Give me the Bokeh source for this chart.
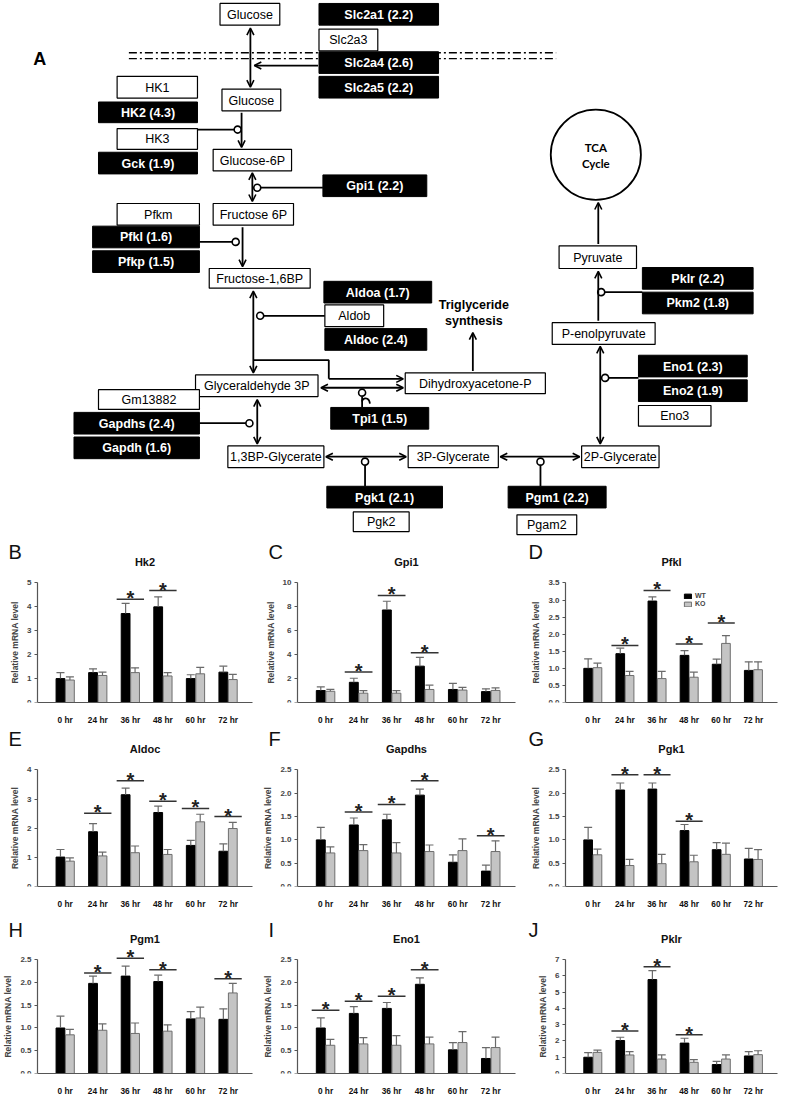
import numpy as np
from bokeh.plotting import figure
from bokeh.models import Range1d, Arrow, OpenHead, FixedTicker, PrintfTickFormatter
from bokeh.layouts import column, row
from bokeh.embed import file_html
from bokeh.resources import INLINE
from bokeh.core.properties import value

FONT = "Liberation Sans"

# ------------------------------------------------------------------ data
times = ["0 hr", "24 hr", "36 hr", "48 hr", "60 hr", "72 hr"]
groups = ["WT", "KO"]

hk2_wt = [1.00, 1.25, 3.72, 4.00, 1.00, 1.27]
hk2_wt_sem = [0.25, 0.16, 0.43, 0.42, 0.16, 0.25]
hk2_ko = [0.94, 1.13, 1.25, 1.11, 1.20, 0.96]
hk2_ko_sem = [0.13, 0.14, 0.20, 0.14, 0.27, 0.22]
hk2_sig = [2, 3]
hk2_sig_y = [4.32, 4.68]

gpi1_wt = [1.00, 1.69, 7.74, 3.04, 1.09, 0.91]
gpi1_wt_sem = [0.30, 0.34, 0.73, 0.73, 0.51, 0.23]
gpi1_ko = [0.94, 0.78, 0.78, 1.09, 1.04, 1.01]
gpi1_ko_sem = [0.15, 0.21, 0.21, 0.36, 0.23, 0.21]
gpi1_sig = [1, 2, 3]
gpi1_sig_y = [2.55, 8.96, 4.16]

pfkl_wt = [1.00, 1.43, 2.97, 1.38, 1.12, 0.94]
pfkl_wt_sem = [0.28, 0.16, 0.12, 0.14, 0.15, 0.25]
pfkl_ko = [1.02, 0.79, 0.70, 0.74, 1.73, 0.96]
pfkl_ko_sem = [0.13, 0.12, 0.21, 0.15, 0.23, 0.23]
pfkl_sig = [1, 2, 3, 4]
pfkl_sig_y = [1.67, 3.28, 1.71, 2.33]

aldoc_wt = [1.01, 1.88, 3.15, 2.54, 1.41, 1.21]
aldoc_wt_sem = [0.26, 0.28, 0.23, 0.22, 0.17, 0.25]
aldoc_ko = [0.87, 1.05, 1.16, 1.10, 2.22, 1.99]
aldoc_ko_sem = [0.11, 0.13, 0.23, 0.17, 0.26, 0.21]
aldoc_sig = [1, 2, 3, 4, 5]
aldoc_sig_y = [2.51, 3.63, 2.93, 2.68, 2.40]

gapdhs_wt = [1.00, 1.32, 1.43, 1.96, 0.52, 0.33]
gapdhs_wt_sem = [0.27, 0.15, 0.12, 0.13, 0.16, 0.13]
gapdhs_ko = [0.72, 0.77, 0.72, 0.75, 0.77, 0.75]
gapdhs_ko_sem = [0.13, 0.13, 0.22, 0.14, 0.25, 0.23]
gapdhs_sig = [1, 2, 3, 5]
gapdhs_sig_y = [1.60, 1.76, 2.27, 1.09]

pgk1_wt = [1.00, 2.07, 2.09, 1.20, 0.79, 0.59]
pgk1_wt_sem = [0.27, 0.15, 0.13, 0.13, 0.15, 0.23]
pgk1_ko = [0.68, 0.45, 0.49, 0.53, 0.69, 0.58]
pgk1_ko_sem = [0.12, 0.13, 0.20, 0.14, 0.24, 0.21]
pgk1_sig = [1, 2, 3]
pgk1_sig_y = [2.40, 2.40, 1.40]

pgm1_wt = [1.00, 1.98, 2.14, 2.02, 1.20, 1.19]
pgm1_wt_sem = [0.26, 0.16, 0.22, 0.14, 0.16, 0.23]
pgm1_ko = [0.85, 0.95, 0.88, 0.93, 1.22, 1.77]
pgm1_ko_sem = [0.12, 0.14, 0.23, 0.14, 0.24, 0.21]
pgm1_sig = [1, 2, 3, 5]
pgm1_sig_y = [2.21, 2.53, 2.28, 2.08]

eno1_wt = [1.00, 1.32, 1.43, 1.96, 0.52, 0.33]
eno1_wt_sem = [0.22, 0.15, 0.13, 0.14, 0.16, 0.24]
eno1_ko = [0.62, 0.65, 0.62, 0.65, 0.68, 0.57]
eno1_ko_sem = [0.13, 0.14, 0.21, 0.15, 0.24, 0.23]
eno1_sig = [0, 1, 2, 3]
eno1_sig_y = [1.39, 1.59, 1.70, 2.28]

pklr_wt = [1.00, 2.03, 5.78, 1.87, 0.55, 1.08]
pklr_wt_sem = [0.28, 0.20, 0.55, 0.30, 0.20, 0.26]
pklr_ko = [1.30, 1.14, 0.89, 0.69, 0.89, 1.16]
pklr_ko_sem = [0.14, 0.20, 0.25, 0.16, 0.25, 0.24]
pklr_sig = [1, 2, 3]
pklr_sig_y = [2.62, 6.57, 2.39]

panels = [
    ("B", "Hk2", hk2_wt, hk2_wt_sem, hk2_ko, hk2_ko_sem, hk2_sig, hk2_sig_y, 5, 1),
    ("C", "Gpi1", gpi1_wt, gpi1_wt_sem, gpi1_ko, gpi1_ko_sem, gpi1_sig, gpi1_sig_y, 10, 2),
    ("D", "Pfkl", pfkl_wt, pfkl_wt_sem, pfkl_ko, pfkl_ko_sem, pfkl_sig, pfkl_sig_y, 3.5, 0.5),
    ("E", "Aldoc", aldoc_wt, aldoc_wt_sem, aldoc_ko, aldoc_ko_sem, aldoc_sig, aldoc_sig_y, 4, 1),
    ("F", "Gapdhs", gapdhs_wt, gapdhs_wt_sem, gapdhs_ko, gapdhs_ko_sem, gapdhs_sig, gapdhs_sig_y, 2.5, 0.5),
    ("G", "Pgk1", pgk1_wt, pgk1_wt_sem, pgk1_ko, pgk1_ko_sem, pgk1_sig, pgk1_sig_y, 2.5, 0.5),
    ("H", "Pgm1", pgm1_wt, pgm1_wt_sem, pgm1_ko, pgm1_ko_sem, pgm1_sig, pgm1_sig_y, 2.5, 0.5),
    ("I", "Eno1", eno1_wt, eno1_wt_sem, eno1_ko, eno1_ko_sem, eno1_sig, eno1_sig_y, 2.5, 0.5),
    ("J", "Pklr", pklr_wt, pklr_wt_sem, pklr_ko, pklr_ko_sem, pklr_sig, pklr_sig_y, 7, 1),
]

# ------------------------------------------------------------------ pathway diagram (layout, reference pixels)
white_boxes = [
    ("Glucose", 224, 285, 3, 25),
    ("Slc2a3", 325, 385, 29, 51),
    ("HK1", 119, 201, 77, 99),
    ("Glucose", 226, 286, 90, 112),
    ("HK3", 119, 201, 130, 151),
    ("Glucose-6P", 217, 297, 151, 173),
    ("Pfkm", 119, 203, 206, 228),
    ("Fructose 6P", 217, 299, 206, 228),
    ("Fructose-1,6BP", 213, 316, 272, 292),
    ("Aldob", 331, 391, 309, 331),
    ("Glyceraldehyde 3P", 199, 324, 380, 402),
    ("Dihydroxyacetone-P", 413, 556, 378, 399),
    ("Gm13882", 100, 203, 395, 415),
    ("1,3BP-Glycerate", 232, 330, 452, 474),
    ("3P-Glycerate", 416, 508, 452, 474),
    ("2P-Glycerate", 593, 672, 452, 474),
    ("Pgk2", 360, 417, 519, 539),
    ("Pgam2", 527, 588, 522, 542),
    ("Pyruvate", 570, 649, 249, 272),
    ("P-enolpyruvate", 563, 668, 327, 349),
    ("Eno3", 651, 725, 411, 432),
]
black_boxes = [
    ("Slc2a1 (2.2)", 325, 447, 3, 25),
    ("Slc2a4 (2.6)", 325, 447, 52, 74),
    ("Slc2a5 (2.2)", 325, 447, 77, 99),
    ("HK2 (4.3)", 100, 201, 103, 124),
    ("Gck (1.9)", 100, 201, 154, 176),
    ("Gpi1 (2.2)", 329, 435, 177, 199),
    ("Pfkl (1.6)", 94, 203, 229, 251),
    ("Pfkp (1.5)", 94, 203, 254, 276),
    ("Aldoa (1.7)", 330, 440, 285, 307),
    ("Aldoc (2.4)", 331, 435, 333, 355),
    ("Tpi1 (1.5)", 337, 437, 413, 435),
    ("Gapdhs (2.4)", 75, 203, 418, 440),
    ("Gapdh (1.6)", 75, 203, 443, 465),
    ("Pgk1 (2.1)", 333, 451, 493, 515),
    ("Pgm1 (2.2)", 518, 618, 493, 515),
    ("Pklr (2.2)", 655, 768, 271, 293),
    ("Pkm2 (1.8)", 655, 768, 296, 318),
    ("Eno1 (2.3)", 651, 762, 360, 382),
    ("Eno2 (1.9)", 651, 762, 385, 407),
]
# (x0, y0, x1, y1, head at start, head at end)
arrows = [
    (255, 28, 255, 88, True, True),
    (324, 66, 259, 66, False, True),
    (246, 114, 246, 149, False, True),
    (257, 175, 257, 204, True, True),
    (247, 230, 247, 270, False, True),
    (258, 295, 258, 378, True, True),
    (335, 384, 411, 384, False, True),
    (327, 393, 411, 393, True, True),
    (482, 376, 482, 337, False, True),
    (262, 450, 262, 405, True, True),
    (332, 463, 414, 463, True, True),
    (510, 463, 591, 463, True, True),
    (612, 450, 612, 351, True, True),
    (610, 325, 610, 275, False, True),
    (610, 247, 610, 205, False, True),
]
connectors = [
    ([201, 239], [131, 131]),
    ([265, 329], [190, 190]),
    ([203, 237], [245, 245]),
    ([268, 331], [320, 320]),
    ([258, 335, 335], [365, 365, 384]),
    ([203, 251], [429, 429]),
    ([372, 372], [471, 493]),
    ([551, 551], [471, 493]),
    ([620, 651], [383, 383]),
    ([616, 655], [296, 296]),
    ([369, 369], [402, 413]),
]
circles_x = [242, 262, 240, 265, 254, 372, 551, 617, 613, 369]
circles_y = [131, 190, 245, 320, 429, 468, 468, 383, 296, 398]

D = figure(width=783, height=538, x_range=Range1d(0, 799), y_range=Range1d(546, 0),
           output_backend="svg", toolbar_location=None, min_border=0,
           x_axis_type=None, y_axis_type=None)
D.grid.visible = False
D.outline_line_color = None

for yy in (53, 59):
    D.line([131, 567], [yy, yy], line_color="black", line_width=1.4, line_dash="8 3 2 3")

for xs, ys in connectors:
    D.line(xs, ys, line_color="black", line_width=1.8)
D.bezier(x0=[369], y0=[407], x1=[377], y1=[409], cx0=[369], cy0=[403], cx1=[376], cy1=[402],
         line_color="black", line_width=1.8)

for x0, y0, x1, y1, hs, he in arrows:
    D.add_layout(Arrow(x_start=x0, y_start=y0, x_end=x1, y_end=y1, line_width=1.8,
                       start=OpenHead(size=7, line_width=1.6) if hs else None,
                       end=OpenHead(size=7, line_width=1.6) if he else None))

D.scatter(circles_x, circles_y, marker="circle", size=7, fill_color="white",
          line_color="black", line_width=1.6)

D.quad(left=[b[1] for b in white_boxes], right=[b[2] for b in white_boxes],
       top=[b[3] for b in white_boxes], bottom=[b[4] for b in white_boxes],
       fill_color="white", line_color="black", line_width=1.2)
D.text(x=[(b[1] + b[2]) / 2 for b in white_boxes], y=[(b[3] + b[4]) / 2 + 0.5 for b in white_boxes],
       text=[b[0] for b in white_boxes], text_align="center", text_baseline="middle",
       text_color="black", text_font=value(FONT), text_font_size="12.5px")

D.quad(left=[b[1] for b in black_boxes], right=[b[2] for b in black_boxes],
       top=[b[3] for b in black_boxes], bottom=[b[4] for b in black_boxes],
       fill_color="black", line_color="black", line_width=1)
D.text(x=[(b[1] + b[2]) / 2 for b in black_boxes], y=[(b[3] + b[4]) / 2 + 0.5 for b in black_boxes],
       text=[b[0] for b in black_boxes], text_align="center", text_baseline="middle",
       text_color="white", text_font=value(FONT), text_font_size="12.5px", text_font_style="bold")

D.circle(x=[607.5], y=[156.5], radius=46, fill_color=None, line_color="black", line_width=1.8)
D.text(x=[607.5, 607.5], y=[149, 165], text=["TCA", "Cycle"], text_align="center",
       text_baseline="middle", text_font=value("Lato"), text_font_size="11.5px",
       text_font_style="bold")
D.text(x=[483, 483], y=[309, 325], text=["Triglyceride", "synthesis"], text_align="center",
       text_baseline="middle", text_font=value(FONT), text_font_size="12.5px",
       text_font_style="bold")
D.text(x=[40], y=[59], text=["A"], text_align="center", text_baseline="middle",
       text_font=value(FONT), text_font_size="18px", text_font_style="bold")

# ------------------------------------------------------------------ bar panels
COL_W = [260, 260, 263]
COL_L = [37, 37, 45]     # panel left -> y axis
COL_R = [8, 5, 6]
ROW_H = [189, 184, 187]
ROW_T = [45, 43, 50]     # panel top -> top tick
ROW_B = [23, 23, 19]     # bottom border (x tick labels)
G0, G1 = -0.85, 5.75     # group-axis extent


def bar_panel(spec, ci, ri):
    letter, name, wt, wte, ko, koe, sig, sigy, ymax, step = spec
    w, mbl, mbr = COL_W[ci], COL_L[ci], COL_R[ci]
    h, toff, mbb = ROW_H[ri], ROW_T[ri], ROW_B[ri]
    frame_h = h - mbb
    span = frame_h - toff
    yend = ymax * frame_h / span
    ppu = (w - mbl - mbr) / (G1 - G0)
    xstart = G0 - mbl / ppu
    p = figure(width=w, height=h, x_range=Range1d(xstart, G1), y_range=Range1d(0, yend),
               output_backend="svg", toolbar_location=None,
               min_border_left=0, min_border_right=mbr,
               min_border_top=0, min_border_bottom=mbb)
    p.grid.visible = False
    p.outline_line_color = None
    idx = np.arange(len(times))
    bw = 0.27
    xw = idx - 0.145
    xk = idx + 0.145
    is_leg = (name == "Pfkl")
    kw_w = dict(legend_label="WT") if is_leg else {}
    kw_k = dict(legend_label="KO") if is_leg else {}
    p.vbar(x=xw, top=wt, width=bw, bottom=0, fill_color="black", line_color="black", **kw_w)
    p.vbar(x=xk, top=ko, width=bw, bottom=0, fill_color="#c4c4c4", line_color="#6e6e6e",
           line_width=1, **kw_k)
    wt_a, wte_a, ko_a, koe_a = map(np.array, (wt, wte, ko, koe))
    ex = np.concatenate([xw, xk])
    e0 = np.concatenate([wt_a, ko_a])
    e1 = np.concatenate([wt_a + wte_a, ko_a + koe_a])
    p.segment(x0=ex, y0=e0, x1=ex, y1=e1, line_color="#6a6a6a", line_width=1.2)
    p.scatter(x=ex, y=e1, marker="dash", size=8, line_color="#6a6a6a", line_width=1.2)
    sx = np.array(sig, dtype=float)
    p.segment(x0=sx - 0.42, y0=sigy, x1=sx + 0.42, y1=sigy, line_color="#333333", line_width=1.5)
    p.text(x=sx, y=sigy, text=["*"] * len(sig), text_align="center", text_baseline="alphabetic",
           y_offset=-1, text_font=value(FONT), text_font_size="20px", text_font_style="bold",
           text_color="#222222")

    unit = ymax / span
    p.text(x=[(G0 + G1) / 2], y=[ymax + 21 * unit], text=[name], text_align="center",
           text_baseline="middle", text_font=value(FONT), text_font_size="11px",
           text_font_style="bold", text_color="#111111")
    p.text(x=[xstart + 8 / ppu], y=[ymax + 31 * unit], text=[letter], text_align="left",
           text_baseline="middle", text_font=value(FONT), text_font_size="20px",
           text_color="#111111")

    xa = p.xaxis[0]
    xa.ticker = FixedTicker(ticks=list(range(len(times))))
    xa.major_label_overrides = {i: t for i, t in enumerate(times)}
    xa.bounds = (G0, G1)
    xa.major_tick_line_color = None
    xa.minor_tick_line_color = None
    xa.axis_line_color = "#555555"
    xa.axis_line_width = 1.2
    xa.major_label_text_font = FONT
    xa.major_label_text_font_style = "bold"
    xa.major_label_text_font_size = "8.3px"
    xa.major_label_standoff = 6
    xa.major_label_text_color = "#111111"

    ya = p.yaxis[0]
    ya.fixed_location = G0
    ticks = list(np.round(np.arange(0, ymax + step / 2, step), 2))
    ya.ticker = FixedTicker(ticks=ticks)
    ya.formatter = PrintfTickFormatter(format="%.1f" if step < 1 else "%d")
    ya.bounds = (0, ymax)
    ya.minor_tick_line_color = None
    ya.major_tick_in = 0
    ya.major_tick_out = 3
    ya.axis_line_color = "#555555"
    ya.major_tick_line_color = "#555555"
    ya.axis_line_width = 1.2
    ya.major_label_text_font = FONT
    ya.major_label_text_font_style = "bold"
    ya.major_label_text_font_size = "8px"
    ya.major_label_standoff = 3
    ya.axis_label = "Relative mRNA level"
    ya.axis_label_text_font = FONT
    ya.axis_label_text_font_style = "bold"
    ya.axis_label_text_font_size = "8.5px"
    ya.axis_label_standoff = 4

    if is_leg:
        lg = p.legend[0]
        lg.location = (118 + mbl, frame_h - toff - 26)
        lg.label_text_font = FONT
        lg.label_text_font_size = "7px"
        lg.label_text_font_style = "bold"
        lg.glyph_width = 9
        lg.glyph_height = 6
        lg.label_height = 7
        lg.label_standoff = 3
        lg.spacing = 1
        lg.padding = 0
        lg.margin = 0
        lg.border_line_color = None
        lg.background_fill_alpha = 0
    return p


rows = []
for ri in range(3):
    figs = [bar_panel(panels[ri * 3 + ci], ci, ri) for ci in range(3)]
    rows.append(row(*figs, spacing=0))

layout = column(D, *rows, spacing=0)
open("out.html", "w").write(file_html(layout, INLINE))
